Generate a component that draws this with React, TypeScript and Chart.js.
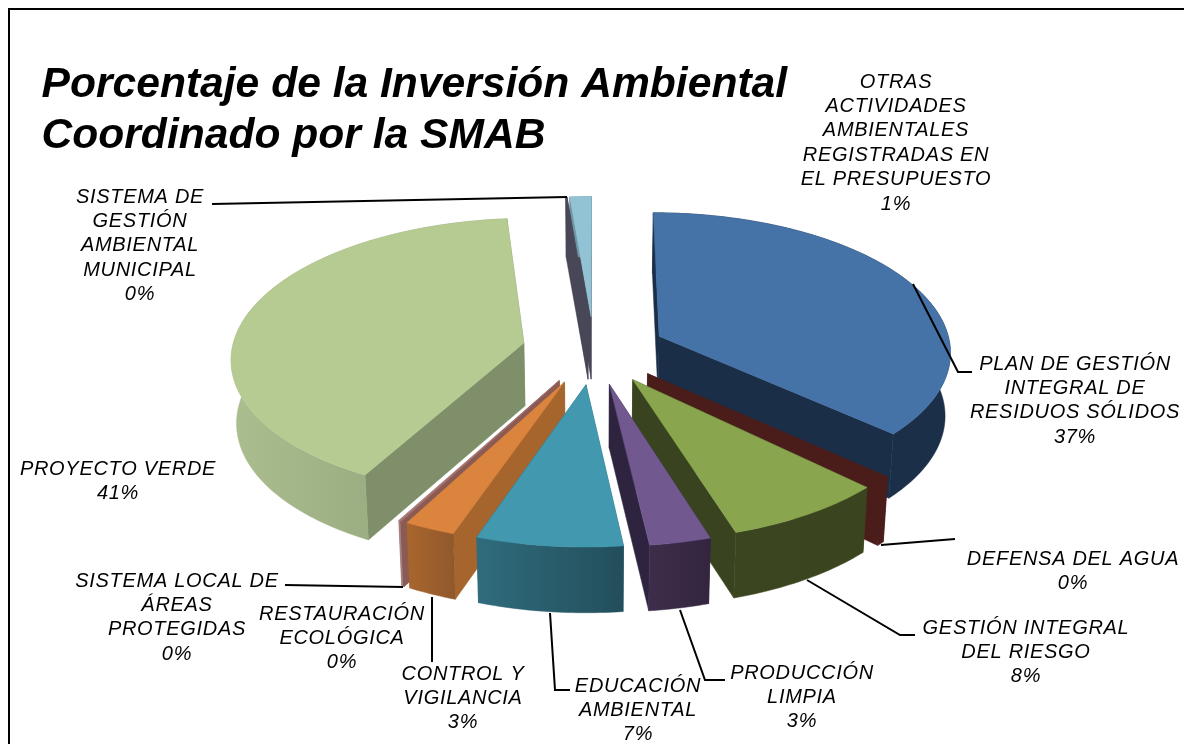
import React, { useEffect, useRef } from "react";
import Chart from "chart.js/auto";

const categories = [
  "PLAN DE GESTIÓN INTEGRAL DE RESIDUOS SÓLIDOS",
  "DEFENSA DEL AGUA",
  "GESTIÓN INTEGRAL DEL RIESGO",
  "PRODUCCIÓN LIMPIA",
  "EDUCACIÓN AMBIENTAL",
  "CONTROL Y VIGILANCIA",
  "RESTAURACIÓN ECOLÓGICA",
  "SISTEMA LOCAL DE ÁREAS PROTEGIDAS",
  "PROYECTO VERDE",
  "SISTEMA DE GESTIÓN AMBIENTAL MUNICIPAL",
  "OTRAS ACTIVIDADES AMBIENTALES REGISTRADAS EN EL PRESUPUESTO",
];
const values = [36.72, 0.47, 7.97, 3.0, 7.14, 2.5, 0.03, 0.1, 40.67, 0.08, 1.32];

const topColors = ["#4572A7", "#4A1D1A", "#89A54E", "#71588F", "#4198AF", "#DB843D", "#B0706A", "#A47D7C", "#B6CB92", "#4A4A5A", "#92C3D5"];
const wallColors = ["#1A2E48", "#4A1D1A", "#39431F", "#2E243F", "#2A6070", "#A5652D", "#8A5A55", "#A47D7C", "#7F8F69", "#474757", "#474757"];
const outerLeft = ["#1B2F49", "#4A1D1A", "#3B4620", "#3D2D4A", "#2F6C7D", "#A9662E", "#8A5A55", "#A47D7C", "#ABBE8F", "#474757", "#6F95A3"];
const outerRight = ["#1B2F49", "#4A1D1A", "#3A441F", "#33253F", "#234E5B", "#91592B", "#8A5A55", "#A47D7C", "#8B9C74", "#474757", "#6F95A3"];

const titleLines = ["Porcentaje de la Inversión Ambiental", "Coordinado por la SMAB"];

const labelLines = [
  ["PLAN DE GESTIÓN", "INTEGRAL DE", "RESIDUOS SÓLIDOS", "37%"],
  ["DEFENSA DEL AGUA", "0%"],
  ["GESTIÓN INTEGRAL", "DEL RIESGO", "8%"],
  ["PRODUCCIÓN", "LIMPIA", "3%"],
  ["EDUCACIÓN", "AMBIENTAL", "7%"],
  ["CONTROL Y", "VIGILANCIA", "3%"],
  ["RESTAURACIÓN", "ECOLÓGICA", "0%"],
  ["SISTEMA LOCAL DE", "ÁREAS", "PROTEGIDAS", "0%"],
  ["PROYECTO VERDE", "41%"],
  ["SISTEMA DE", "GESTIÓN", "AMBIENTAL", "MUNICIPAL", "0%"],
  ["OTRAS", "ACTIVIDADES", "AMBIENTALES", "REGISTRADAS EN", "EL PRESUPUESTO", "1%"],
];
const labelCenterX = [1075, 1073, 1026, 802, 638, 463, 342, 177, 118, 140, 896];
const labelFirstY = [364, 559, 628, 673, 686, 674, 614, 581, 469, 197, 82];

const leaders: number[][][] = [
  [[913, 284], [958, 372], [972, 372]],
  [[881, 545], [955, 539]],
  [[807, 580], [900, 635], [915, 635]],
  [[680, 610], [705, 680], [725, 680]],
  [[550, 613], [555, 690], [570, 690]],
  [[432, 597], [432, 662]],
  [[285, 585], [403, 587]],
  [[212, 204], [567, 197]],
];

const FONT = '"Liberation Sans", Arial, sans-serif';
const TILT = 0.4743;
const PERSP = 0.000343;
const DEPTH = 63;
const EXPLODE = 72;
const RADIUS = 292;

function project(cx: number, cy: number, X: number, Y: number, low: boolean) {
  const f = 1 / (1 - PERSP * Y);
  const b = low ? 0.985 : 1;
  return {
    x: cx + X * f * b,
    y: cy + TILT * Y * f + (low ? DEPTH * (1 + Y * 0.00012) : 0),
  };
}

const pie3d = {
  id: "pie3d",
  beforeDatasetDraw(chart: any) {
    const ctx = chart.ctx as CanvasRenderingContext2D;
    const arcs = chart.getDatasetMeta(0).data as any[];
    const order = arcs
      .map((a, i) => ({ a, i, mid: (a.startAngle + a.endAngle) / 2 }))
      .sort((p, q) => Math.sin(p.mid) - Math.sin(q.mid));
    for (const { a, i, mid } of order) {
      const off = a.options.offset;
      const ox = off * Math.cos(mid);
      const oy = off * Math.sin(mid);
      const R = a.outerRadius;
      const steps = Math.max(2, Math.ceil(((a.endAngle - a.startAngle) * 180) / Math.PI));
      const rim = (low: boolean) => {
        const pts = [];
        for (let s = 0; s <= steps; s++) {
          const t = a.startAngle + ((a.endAngle - a.startAngle) * s) / steps;
          pts.push(project(a.x, a.y, ox + R * Math.cos(t), oy + R * Math.sin(t), low));
        }
        return pts;
      };
      const top = rim(false);
      const bot = rim(true);
      const apexT = project(a.x, a.y, ox, oy, false);
      const apexB = project(a.x, a.y, ox, oy, true);
      const poly = (pts: { x: number; y: number }[], fill: any) => {
        ctx.beginPath();
        pts.forEach((p, n) => (n ? ctx.lineTo(p.x, p.y) : ctx.moveTo(p.x, p.y)));
        ctx.closePath();
        ctx.fillStyle = fill;
        ctx.strokeStyle = fill;
        ctx.lineWidth = 0.5;
        ctx.fill();
        ctx.stroke();
      };
      poly([apexT, apexB, bot[0], top[0]], wallColors[i]);
      poly([apexT, apexB, bot[steps], top[steps]], wallColors[i]);
      const xs = top.map((p) => p.x);
      const g = ctx.createLinearGradient(Math.min(...xs), 0, Math.max(...xs) + 0.01, 0);
      g.addColorStop(0, outerLeft[i]);
      g.addColorStop(1, outerRight[i]);
      poly([...top, ...bot.slice().reverse()], g);
      poly([apexT, ...top], a.options.backgroundColor);
    }
    return false;
  },
  afterDraw(chart: any) {
    const ctx = chart.ctx as CanvasRenderingContext2D;
    ctx.save();
    ctx.strokeStyle = "#000";
    ctx.lineWidth = 2;
    for (const path of leaders) {
      ctx.beginPath();
      path.forEach((p, n) => (n ? ctx.lineTo(p[0], p[1]) : ctx.moveTo(p[0], p[1])));
      ctx.stroke();
    }
    ctx.fillStyle = "#000";
    ctx.textBaseline = "middle";
    ctx.textAlign = "center";
    ctx.font = `italic 20px ${FONT}`;
    (ctx as any).letterSpacing = "0.7px";
    labelLines.forEach((lines, i) => {
      lines.forEach((t, n) => ctx.fillText(t, labelCenterX[i], labelFirstY[i] + n * 24.4));
    });
    (ctx as any).letterSpacing = "0px";
    ctx.textAlign = "left";
    ctx.textBaseline = "alphabetic";
    ctx.font = `italic bold 42.6px ${FONT}`;
    titleLines.forEach((t, n) => ctx.fillText(t, 41.5, 96.5 + n * 51));
    ctx.restore();
  },
};

export default function App() {
  const ref = useRef<HTMLCanvasElement>(null);
  useEffect(() => {
    const chart = new Chart(ref.current!, {
      type: "pie",
      data: {
        labels: categories,
        datasets: [
          {
            data: values,
            backgroundColor: topColors,
            borderWidth: 0,
            offset: EXPLODE,
            radius: RADIUS,
          } as any,
        ],
      },
      options: {
        responsive: false,
        animation: false,
        layout: { padding: { left: 4, bottom: 44 } },
        plugins: { legend: { display: false }, tooltip: { enabled: false }, title: { display: false } },
      },
      plugins: [pie3d as any],
    });
    return () => chart.destroy();
  }, []);
  return (
    <div style={{ position: "absolute", left: 0, top: 0, width: 1184, height: 744, overflow: "hidden", background: "#fff" }}>
      <canvas ref={ref} width={1184} height={744} style={{ display: "block", position: "absolute", left: 0, top: 0 }} />
      <div style={{ position: "absolute", left: 8, top: 8, right: -4, bottom: -4, borderLeft: "2px solid #000", borderTop: "2px solid #000" }} />
    </div>
  );
}
